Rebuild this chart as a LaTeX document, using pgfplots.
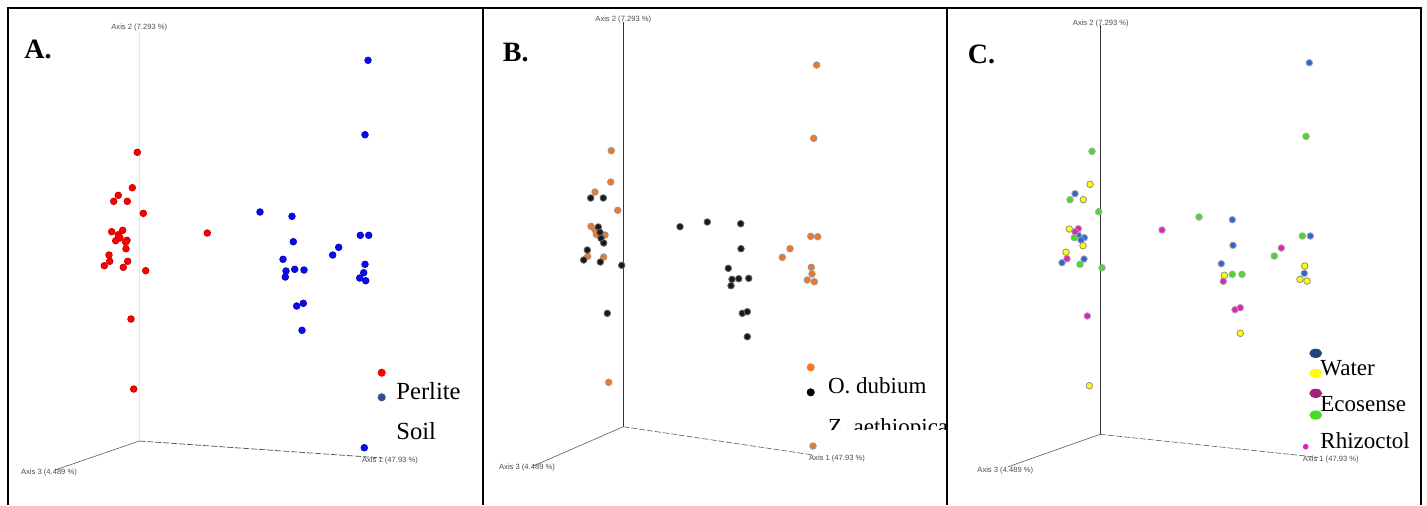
\documentclass[border=0pt]{standalone}
\usepackage{pgfplots}
\pgfplotsset{compat=1.18}
\usepackage{fontspec}
\setmainfont{Liberation Serif}
\newfontfamily\axfont{Liberation Sans}
\definecolor{redA}{RGB}{255,0,0}
\definecolor{blueA}{RGB}{10,10,240}
\definecolor{legblueA}{RGB}{42,85,130}
\definecolor{orangeB}{RGB}{240,120,40}
\definecolor{blackB}{RGB}{25,25,25}
\definecolor{blueC}{RGB}{50,100,210}
\definecolor{yellowC}{RGB}{255,255,0}
\definecolor{magC}{RGB}{230,30,190}
\definecolor{greenC}{RGB}{70,220,40}
\definecolor{navyC}{RGB}{30,70,120}
\definecolor{purpleC}{RGB}{165,30,125}
\tikzset{
  axlab/.style={font=\axfont\fontsize{3.8}{4}\selectfont, text=black!70, inner sep=0pt},
  leg/.style={font=\fontsize{11.5}{12}\selectfont, anchor=base west, inner sep=0pt},
  legA/.style={font=\fontsize{12.3}{13}\selectfont, anchor=base west, inner sep=0pt},
  plab/.style={font=\bfseries\fontsize{14}{14}\selectfont, anchor=base west, inner sep=0pt},
  frame/.style={black, line width=1pt},
}
\pgfplotsset{
  panel/.style={x=0.5pt, y=0.5pt, y dir=reverse, ymin=0, ymax=505,
    hide axis, clip=false, anchor=north west},
  dots/.style={only marks, mark=*, mark size=1.65pt,
    mark options={yscale=0.78, line width=0.25pt}},
}
\begin{document}
\begin{tikzpicture}
\useasboundingbox (0,0) rectangle (713.5pt,-252.5pt);
% ---------------- Panel A ----------------
\begin{axis}[panel, xmin=0, xmax=483, at={(0pt,0pt)}]
\addplot[frame] coordinates {(8,505) (8,8) (483,8) (483,505)};
\addplot[black!10, line width=0.4pt] coordinates {(139.3,441) (139.3,32)};
\addplot[black!65, line width=0.3pt] coordinates {(139.3,441) (55,470)};
\addplot[black!70, line width=0.35pt, dash pattern=on 3pt off 1pt] coordinates {(139.3,441) (383,458)};
\node[axlab] at (axis cs:139.3,27.3) {Axis 2 (7.293 \%)};
\node[axlab] at (axis cs:49,472.7) {Axis 3 (4.489 \%)};
\node[axlab] at (axis cs:390,460.3) {Axis 1 (47.93 \%)};
\addplot[dots, mark options={fill=redA, draw=redA!80!black}] coordinates {
(137.3,152.3) (132.3,187.7) (118.3,195.3) (113.7,201.3) (127.3,201.3)
(143.3,213.3) (207.3,233) (111.7,231.7) (122.7,230.3) (118.3,234.7)
(120,238) (115.7,240.7) (127,240.3) (125.7,242.3) (126,248.7)
(109,255) (109.7,261.3) (127.7,261.3) (104.3,265.7) (123.3,267.3)
(145.7,270.7) (131,319) (133.7,389)};
\addplot[dots, mark options={fill=blueA, draw=blueA!80!black}] coordinates {
(368,60.3) (365,134.7) (260,212) (292,216.3) (293.3,241.7)
(360.3,235.3) (368.7,235.3) (338.7,247.3) (332.7,255) (283,259.3)
(286,271) (294.7,269.3) (304,270) (285.3,277) (365,264.3)
(363.7,272.7) (359.7,278) (365.7,280.7) (296.7,306) (303.3,303.3)
(302,330.3) (364.3,447.7)};
% legend A
\addplot[only marks, mark=*, mark size=1.8pt, mark options={fill=redA, draw=redA}] coordinates {(381.7,372.7)};
\addplot[only marks, mark=*, mark size=1.8pt, mark options={fill=legblueA, draw=legblueA}] coordinates {(381.7,397.3)};
\node[legA] at (axis cs:396,399.3) {Perlite};
\node[legA] at (axis cs:396,439.3) {Soil};
\node[plab] at (axis cs:24,58.3) {A.};
\end{axis}
% ---------------- Panel B ----------------
\begin{axis}[panel, xmin=483, xmax=947, at={(241.5pt,0pt)}]
\addplot[frame] coordinates {(483,505) (483,8) (947,8) (947,505)};
\addplot[black!80, line width=0.5pt] coordinates {(623.3,426.7) (623.3,22)};
\addplot[black!65, line width=0.3pt] coordinates {(623.3,426.7) (533.3,466)};
\addplot[black!65, line width=0.3pt, dash pattern=on 3pt off 1pt] coordinates {(623.3,426.7) (813.3,455)};
\node[axlab] at (axis cs:623.3,20) {Axis 2 (7.293 \%)};
\node[axlab] at (axis cs:527,468) {Axis 3 (4.489 \%)};
\node[axlab] at (axis cs:837,458.3) {Axis 1 (47.93 \%)};
\addplot[dots, mark options={fill=orangeB, draw=black!40}] coordinates {
(816.7,65) (813.7,138.3) (611.3,150.7) (610.7,182) (595,192)
(617.7,210.3) (591,226.3) (595,229.7) (596.3,234.3) (605,235)
(587.7,256.3) (603.7,257) (608.7,382.3) (810.7,236.3) (817.7,236.7)
(790,248.7) (782.3,257.3) (811.3,267.3) (812,274) (807.3,280)
(814.3,281.7) (813,446)};
\addplot[dots, mark options={fill=blackB, draw=black!60}] coordinates {
(590.7,198) (603.3,198) (598.3,227) (600,232.3) (601,238.3)
(603.7,243) (587.3,250) (583.7,260) (600.3,262) (621.7,265.3)
(607.3,313.3) (680,226.7) (707.3,222) (740.7,223.7) (741,248.7)
(728.3,268.3) (732,279.3) (738.7,278.7) (748.7,278.3) (731,285.7)
(742.3,313.3) (747.3,311.7) (747.3,336.7)};
% legend B
\addplot[only marks, mark=*, mark size=1.8pt, mark options={fill=orangeB, draw=orangeB}] coordinates {(810.7,367.3)};
\addplot[only marks, mark=*, mark size=1.8pt, mark options={fill=black, draw=black}] coordinates {(810.7,392.3)};
\node[leg] at (axis cs:827.7,393.3) {O. dubium};
\coordinate (zt) at (axis cs:827.7,434);
\coordinate (zc1) at (axis cs:820,405);
\coordinate (zc2) at (axis cs:960,429);
\node[plab] at (axis cs:502.5,61.7) {B.};
\end{axis}
\begin{scope}
\clip (zc1) rectangle (zc2);
\node[leg] at (zt) {Z. aethiopica};
\end{scope}
% ---------------- Panel C ----------------
\begin{axis}[panel, xmin=947, xmax=1427, at={(473.5pt,0pt)}]
\addplot[frame] coordinates {(947,505) (947,8) (1421,8) (1421,505)};
\addplot[black!80, line width=0.5pt] coordinates {(1100,434.3) (1100,25)};
\addplot[black!65, line width=0.3pt] coordinates {(1100,434.3) (1008.3,466.7)};
\addplot[black!65, line width=0.3pt, dash pattern=on 3pt off 1pt] coordinates {(1100,434.3) (1318.3,457.3)};
\node[axlab] at (axis cs:1100.8,23.3) {Axis 2 (7.293 \%)};
\node[axlab] at (axis cs:1005.3,470.3) {Axis 3 (4.489 \%)};
\node[axlab] at (axis cs:1330.8,459.3) {Axis 1 (47.93 \%)};
\addplot[dots, mark options={fill=blueC, draw=black!35}] coordinates {
(1309.3,62.7) (1075,193.7) (1078.3,235.3) (1084.3,237.7) (1081,240)
(1084,259) (1062,262.7) (1232.3,219.7) (1233,245.3) (1221.3,263.7)
(1310.3,236) (1304.3,273.3)};
\addplot[dots, mark options={fill=greenC, draw=black!35}] coordinates {
(1092,151.3) (1070,199.7) (1098.7,211.7) (1074.3,237.7) (1080,264.3)
(1102,267.7) (1199,217) (1232.3,274.3) (1242,274.3) (1274.3,256)
(1306,136.3) (1302.3,236)};
\addplot[dots, mark options={fill=yellowC, draw=black!45}] coordinates {
(1090,184.3) (1083.3,199.7) (1069.3,229) (1083,245.7) (1066,252.3)
(1089.3,385.7) (1224.3,275.3) (1240.3,333.3) (1304.7,266) (1300,279.3)
(1307,281)};
\addplot[dots, mark options={fill=magC, draw=black!35}] coordinates {
(1078.3,228.7) (1075,231.7) (1067,258.7) (1087.3,316) (1162,230)
(1223.3,281.3) (1235,309.7) (1240.3,307.7) (1281.3,248)};
% legend C
\addplot[only marks, mark=*, mark size=2.2pt, mark options={xscale=1.35, yscale=0.95, fill=navyC, draw=navyC}] coordinates {(1315.7,353.3)};
\addplot[only marks, mark=*, mark size=2.2pt, mark options={xscale=1.35, yscale=0.95, fill=yellowC, draw=yellowC}] coordinates {(1315.7,373.3)};
\addplot[only marks, mark=*, mark size=2.2pt, mark options={xscale=1.35, yscale=0.95, fill=purpleC, draw=purpleC}] coordinates {(1315.7,393.3)};
\addplot[only marks, mark=*, mark size=2.2pt, mark options={xscale=1.35, yscale=0.95, fill=greenC, draw=greenC}] coordinates {(1315.7,415)};
\addplot[only marks, mark=*, mark size=1.2pt, mark options={fill=magC, draw=magC}] coordinates {(1305.7,446.7)};
\node[leg] at (axis cs:1320,375) {Water};
\node[leg] at (axis cs:1320,411.7) {Ecosense};
\node[leg] at (axis cs:1320,448.3) {Rhizoctol};
\node[plab] at (axis cs:967.5,63.3) {C.};
\end{axis}
\end{tikzpicture}
\end{document}
